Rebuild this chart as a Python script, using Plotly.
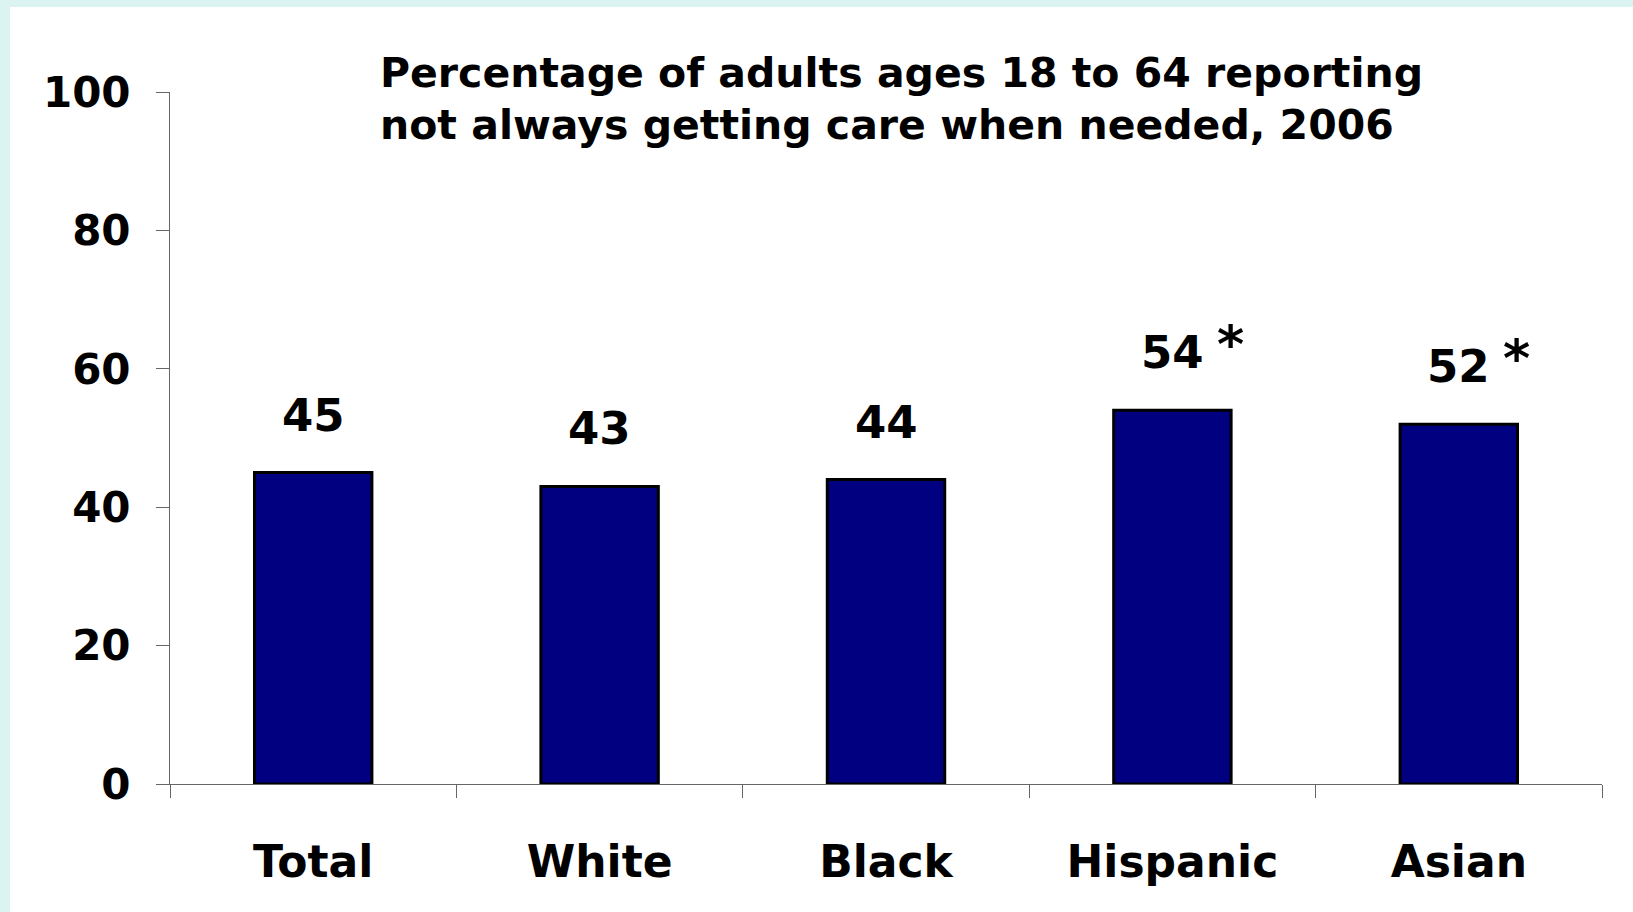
import plotly.graph_objects as go

# Survey results: adults 18-64 not always getting care when needed, 2006
groups = ["Total", "White", "Black", "Hispanic", "Asian"]
percents = [45, 43, 44, 54, 52]
significant = [False, False, False, True, True]
y_ticks = [0, 20, 40, 60, 80, 100]
title_lines = [
    "Percentage of adults ages 18 to 64 reporting",
    "not always getting care when needed, 2006",
]

W, H = 1633, 912
ML, MR, MT, MB = 170, 31, 92, 128
PW, PH = W - ML - MR, H - MT - MB

FONT = "DejaVu Sans, Liberation Sans, Arial, sans-serif"
FRAME = "#dcf4f1"
AXIS = "#666666"


def px_x(p):
    return (p - ML) / PW


def px_y(p):
    return (H - MB - p) / PH


fig = go.Figure(
    go.Bar(
        x=groups,
        y=percents,
        marker=dict(color="#000080", line=dict(color="#000000", width=3)),
        width=0.41,
        hoverinfo="skip",
    )
)

# value labels centred above each bar; an asterisk flags significant groups
for g, v, sig in zip(groups, percents, significant):
    fig.add_annotation(
        x=g, y=v, xref="x", yref="y",
        text=f"<b>{v}</b>", showarrow=False,
        xanchor="center", yanchor="bottom", yshift=29,
        font=dict(family=FONT, size=45, color="#000000"),
    )
    if sig:
        fig.add_annotation(
            x=g, y=v, xref="x", yref="y",
            text="<b>*</b>", showarrow=False,
            xanchor="center", yanchor="bottom", xshift=58, yshift=34,
            font=dict(family=FONT, size=52, color="#000000"),
        )

# two-line heading inside the chart
for i, line in enumerate(title_lines):
    fig.add_annotation(
        x=px_x(378), y=px_y(47 + i * 52), xref="paper", yref="paper",
        text=f"<b>{line}</b>", showarrow=False,
        xanchor="left", yanchor="top",
        font=dict(family=FONT, size=41, color="#000000"),
    )

# light frame strips along the top and left edges
fig.add_shape(type="rect", xref="paper", yref="paper",
              x0=px_x(0), x1=px_x(W), y0=px_y(0), y1=px_y(7),
              fillcolor=FRAME, line=dict(width=0), layer="below")
fig.add_shape(type="rect", xref="paper", yref="paper",
              x0=px_x(0), x1=px_x(10), y0=px_y(0), y1=px_y(H),
              fillcolor=FRAME, line=dict(width=0), layer="below")

fig.update_layout(
    width=W, height=H,
    margin=dict(l=ML, r=MR, t=MT, b=MB, pad=0),
    paper_bgcolor="#ffffff", plot_bgcolor="#ffffff",
    showlegend=False,
    font=dict(family=FONT, color="#000000"),
)

fig.update_xaxes(
    type="category",
    showline=True, linecolor=AXIS, linewidth=1,
    ticks="outside", tickson="boundaries", ticklen=13, tickcolor=AXIS, tickwidth=1,
    tickfont=dict(family=FONT, size=44, color="#000000", weight="bold"),
    ticklabelstandoff=39,
    showgrid=False, zeroline=False,
)
fig.update_yaxes(
    range=[0, 100],
    tickvals=y_ticks,
    showline=True, linecolor=AXIS, linewidth=1,
    ticks="outside", ticklen=13, tickcolor=AXIS, tickwidth=1,
    tickfont=dict(family=FONT, size=42, color="#000000", weight="bold"),
    ticklabelstandoff=17,
    showgrid=False, zeroline=False,
)

fig.write_html("out.html", config={"displayModeBar": False})
